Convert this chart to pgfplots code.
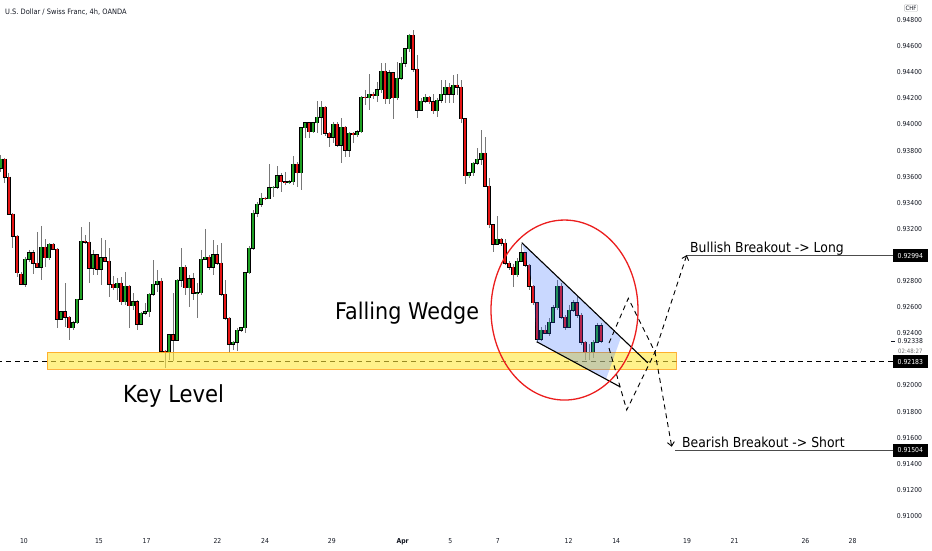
\documentclass[border=0pt]{standalone}
\usepackage{fontspec}
\setmainfont{DejaVu Sans}[FakeStretch=0.9]
\usepackage{pgfplots}
\pgfplotsset{compat=1.18}
\usepackage{pgfplotstable}
\usetikzlibrary{arrows.meta}

\definecolor{candleup}{RGB}{30,160,35}
\definecolor{candledn}{RGB}{230,20,20}
\definecolor{wick}{RGB}{120,120,120}
\definecolor{tvtext}{RGB}{19,23,34}
\definecolor{bandfill}{RGB}{255,232,60}
\definecolor{bandedge}{RGB}{255,165,30}
\definecolor{wedgeblue}{RGB}{41,98,255}
\definecolor{ringred}{RGB}{235,30,30}

% USD/CHF 4h candles: index, open, high, low, close
\pgfplotstableread{
i o h l c
0 .93666 .93766 .93636 .93735
6 .92777 .92984 .92754 .92969
7 .92969 .93038 .92946 .93015
10 .92907 .93222 .92808 .93060
12 .92977 .93091 .92961 .93083
15 .92509 .92570 .92502 .92563
18 .92441 .92494 .92425 .92479
19 .92479 .92662 .92471 .92662
20 .92662 .93214 .92655 .93106
23 .92900 .93038 .92847 .93000
25 .92892 .93130 .92770 .92977
29 .92747 .92823 .92655 .92785
31 .92640 .92870 .92617 .92762
33 .92609 .92708 .92578 .92640
35 .92471 .92563 .92464 .92555
36 .92555 .92632 .92540 .92563
37 .92563 .92708 .92524 .92700
38 .92700 .92961 .92685 .92777
39 .92777 .92885 .92716 .92800
42 .92249 .92387 .92195 .92387
44 .92348 .92815 .92348 .92808
45 .92808 .93053 .92754 .92907
47 .92747 .92847 .92601 .92816
49 .92708 .92785 .92517 .92712
50 .92712 .93038 .92693 .92969
51 .92969 .93199 .92961 .92984
53 .92907 .93114 .92847 .93000
58 .92317 .92340 .92272 .92333
59 .92333 .92441 .92264 .92425
60 .92425 .92448 .92410 .92441
61 .92441 .92870 .92402 .92862
62 .92862 .93068 .92854 .93053
63 .93053 .93344 .93038 .93321
64 .93321 .93406 .93290 .93390
65 .93390 .93474 .93367 .93436
67 .93432 .93696 .93425 .93513
68 .93513 .93528 .93444 .93517
69 .93517 .93681 .93505 .93605
72 .93555 .93574 .93544 .93559
73 .93559 .93758 .93536 .93696
75 .93628 .93980 .93497 .93973
76 .93973 .94019 .93896 .94011
78 .93942 .94019 .93934 .94011
79 .94011 .94179 .93934 .94056
80 .94056 .94179 .93919 .94133
83 .93903 .94019 .93857 .94003
85 .93842 .94049 .93704 .93980
87 .93804 .93942 .93750 .93934
89 .93919 .93957 .93903 .93942
90 .93942 .94218 .93934 .94210
92 .94206 .94386 .94110 .94233
94 .94218 .94325 .94172 .94264
95 .94264 .94470 .94241 .94409
97 .94195 .94417 .94156 .94394
99 .94203 .94478 .94187 .94355
100 .94355 .94516 .94340 .94470
101 .94470 .94586 .94439 .94578
102 .94578 .94693 .94555 .94685
105 .94110 .94203 .94103 .94179
106 .94179 .94233 .94164 .94210
109 .94103 .94203 .94056 .94187
110 .94187 .94340 .94164 .94233
111 .94233 .94340 .94164 .94286
113 .94233 .94379 .94164 .94302
117 .93605 .93636 .93589 .93628
118 .93628 .93712 .93605 .93704
119 .93704 .93819 .93689 .93735
120 .93735 .93957 .93689 .93781
124 .93083 .93298 .93076 .93122
129 .92847 .92977 .92831 .92953
130 .92953 .93083 .92946 .93015
135 .92356 .92448 .92340 .92425
137 .92402 .92517 .92379 .92486
138 .92486 .92617 .92479 .92594
139 .92594 .92808 .92578 .92762
142 .92448 .92617 .92441 .92578
143 .92578 .92655 .92563 .92632
147 .92249 .92317 .92195 .92253
148 .92253 .92348 .92211 .92333
149 .92333 .92479 .92325 .92456
}\upcandles

\pgfplotstableread{
i o h l c
1 .93735 .93743 .93551 .93597
2 .93597 .93628 .93306 .93313
3 .93313 .93321 .93053 .93145
4 .93145 .93153 .92831 .92862
5 .92854 .92870 .92770 .92777
8 .93015 .93038 .92854 .92938
9 .92938 .93176 .92900 .92907
11 .93060 .93122 .92907 .92977
13 .93083 .93091 .93038 .93045
14 .93045 .93053 .92441 .92509
16 .92563 .92785 .92448 .92524
17 .92524 .92532 .92348 .92441
21 .93106 .93153 .93083 .93099
22 .93099 .93253 .92785 .92900
24 .93000 .93005 .92847 .92892
26 .92977 .93114 .92946 .92953
27 .92953 .93053 .92677 .92777
28 .92777 .92839 .92731 .92747
30 .92785 .92831 .92617 .92640
32 .92762 .92770 .92441 .92609
34 .92640 .92655 .92425 .92471
40 .92800 .92823 .92249 .92264
41 .92264 .92272 .92134 .92249
43 .92387 .92708 .92188 .92348
46 .92907 .92923 .92693 .92747
48 .92816 .92862 .92655 .92708
52 .92984 .93000 .92885 .92907
54 .93000 .93076 .92923 .92938
55 .92938 .93091 .92685 .92700
56 .92700 .92808 .92502 .92517
57 .92517 .92525 .92249 .92317
66 .93436 .93444 .93421 .93432
70 .93605 .93628 .93482 .93559
71 .93559 .93636 .93536 .93555
74 .93696 .93712 .93520 .93628
77 .94011 .94019 .93896 .93942
81 .94133 .94141 .93911 .93934
82 .93934 .93940 .93826 .93903
84 .94003 .94019 .93826 .93842
86 .93980 .93988 .93750 .93804
88 .93934 .93942 .93857 .93919
91 .94210 .94264 .94149 .94206
93 .94233 .94249 .94195 .94218
96 .94409 .94470 .94156 .94195
98 .94394 .94402 .94042 .94203
103 .94685 .94723 .94401 .94424
104 .94424 .94532 .94049 .94110
107 .94210 .94218 .94156 .94172
108 .94172 .94233 .94080 .94103
112 .94286 .94317 .94164 .94233
114 .94302 .94386 .94226 .94286
115 .94286 .94340 .94011 .94042
116 .94042 .94049 .93543 .93605
121 .93781 .93903 .93520 .93528
122 .93528 .93589 .93207 .93230
123 .93230 .93237 .93023 .93083
125 .93122 .93130 .93068 .93091
126 .93091 .93122 .92923 .92938
127 .92938 .92953 .92885 .92907
128 .92907 .92931 .92754 .92847
131 .93015 .93023 .92907 .92923
132 .92923 .92931 .92731 .92762
133 .92762 .92770 .92617 .92632
134 .92632 .92640 .92333 .92356
136 .92425 .92464 .92394 .92402
140 .92762 .92785 .92509 .92524
141 .92524 .92540 .92425 .92448
144 .92632 .92685 .92517 .92540
145 .92540 .92555 .92310 .92333
146 .92333 .92340 .92195 .92249
150 .92456 .92479 .92325 .92338
}\downcandles

\pgfplotsset{
  wicks/.style={draw=none, mark=none, forget plot,
    error bars/.cd, y dir=minus, y explicit, error mark=none,
    error bar style={draw=wick, line width=1pt}},
  bodyedge/.style={draw=none, mark=none, forget plot,
    error bars/.cd, y dir=minus, y explicit, error mark=none,
    error bar style={draw=black, line width=3.2pt, line cap=butt}},
  bodyfill/.style={draw=none, mark=none, forget plot,
    error bars/.cd, y dir=minus, y explicit, error mark=none,
    error bar style={draw=#1, line width=2.2pt, line cap=butt}},
}

\newcommand{\tickfont}{\fontsize{6.8}{8}\selectfont}

\begin{document}
\begin{tikzpicture}
\path[use as bounding box] (0,0) rectangle (932pt,550pt);
\begin{axis}[
  at={(0pt,22pt)}, anchor=south west,
  scale only axis, width=932pt, height=528pt,
  xmin=-0.25, xmax=232.75,
  ymin=0.909082, ymax=0.949532,
  axis line style={draw=none},
  tick style={draw=none},
  clip=false,
  xtick={5.75,24.5,36.4,54.1,66,82.7,100.4,112.3,124.2,141.9,153.8,171.5,183.4,201.1,212.9},
  xticklabels={10,15,17,22,24,29,\textbf{Apr},5,7,12,14,19,21,26,28},
  xticklabel style={font=\tickfont, text=tvtext, yshift=-7pt},
  ytick={0.910,0.912,0.914,0.916,0.918,0.920,0.924,0.926,0.928,0.932,0.934,0.936,0.938,0.940,0.942,0.944,0.946,0.948},
  yticklabel pos=right,
  scaled y ticks=false,
  /pgf/number format/assume math mode=true,
  yticklabel style={/pgf/number format/fixed, /pgf/number format/fixed zerofill,
    /pgf/number format/precision=5, font=\tickfont, text=tvtext,
    anchor=east, xshift=-6.4pt},
]
% key level
\addplot[forget plot, black, line width=1pt, dash pattern=on 5pt off 4pt]
  coordinates {(-1,0.92183) (223,0.92183)};

% candles
\addplot[wicks] table[x=i, y=h, y error expr=\thisrow{h}-\thisrow{l}] {\upcandles};
\addplot[wicks] table[x=i, y=h, y error expr=\thisrow{h}-\thisrow{l}] {\downcandles};
\addplot[bodyedge] table[x=i, y expr={max(\thisrow{o},\thisrow{c})+0.0000383},
  y error expr={abs(\thisrow{o}-\thisrow{c})+0.0000766}] {\upcandles};
\addplot[bodyedge] table[x=i, y expr={max(\thisrow{o},\thisrow{c})+0.0000383},
  y error expr={abs(\thisrow{o}-\thisrow{c})+0.0000766}] {\downcandles};
\addplot[bodyfill=candleup] table[x=i, y expr={max(\thisrow{o},\thisrow{c})},
  y error expr={abs(\thisrow{o}-\thisrow{c})}] {\upcandles};
\addplot[bodyfill=candledn] table[x=i, y expr={max(\thisrow{o},\thisrow{c})},
  y error expr={abs(\thisrow{o}-\thisrow{c})}] {\downcandles};

% yellow key-level zone
\fill[bandfill, opacity=0.6] (axis cs:11.5,0.92256) rectangle (axis cs:168.75,0.92126);
\draw[bandedge, opacity=0.85, line width=0.8pt] (axis cs:11.5,0.92256) rectangle (axis cs:168.75,0.92126);

% wedge
\fill[wedgeblue, opacity=0.25] (axis cs:130.18,0.93094) -- (axis cs:155.0,0.92369)
  -- (axis cs:151.25,0.92048) -- (axis cs:133.93,0.92335) -- (axis cs:133.08,0.92757) -- cycle;
\addplot[forget plot, black, line width=1.1pt] coordinates {(130.18,0.93094) (161.68,0.92174)};
\addplot[forget plot, black, line width=1.1pt] coordinates {(133.93,0.92335) (154.75,0.91990)};

% scenarios
\addplot[forget plot, black, line width=0.9pt, dash pattern=on 5pt off 4pt,
  -{Straight Barb[length=4pt,width=7pt]}]
  coordinates {(152.0,0.92325) (156.83,0.92668) (163.5,0.92256) (167.68,0.91531)};
\addplot[forget plot, black, line width=0.9pt, dash pattern=on 5pt off 4pt,
  -{Straight Barb[length=4pt,width=7pt]}]
  coordinates {(152.0,0.92287) (156.43,0.91812) (163.5,0.92256) (171.43,0.92999)};

\addplot[forget plot, black!70, line width=0.9pt] coordinates {(171.43,0.92994) (223,0.92994)};
\addplot[forget plot, black!70, line width=0.9pt] coordinates {(168.5,0.91504) (223,0.91504)};

% circle
\draw[ringred, line width=1.3pt] (axis cs:140.875,0.92578) ellipse [x radius=73.5pt, y radius=90pt];
\end{axis}

% texts
\node[anchor=base west, text=tvtext, font=\fontsize{7.4}{9}\selectfont, inner sep=0pt] at (5pt,535pt) {U.S. Dollar / Swiss Franc, 4h, OANDA};
\node[anchor=base west, text=black, font=\fontsize{23}{26}\selectfont, inner sep=0pt] at (335pt,231pt) {Falling Wedge};
\node[anchor=base west, text=black, font=\fontsize{23.5}{26}\selectfont, inner sep=0pt] at (123pt,148pt) {Key Level};
\node[anchor=base west, text=black, font=\fontsize{13.8}{16}\selectfont, inner sep=0pt] at (690pt,298pt) {Bullish Breakout -> Long};
\node[anchor=base west, text=black, font=\fontsize{13.8}{16}\selectfont, inner sep=0pt] at (682pt,103pt) {Bearish Breakout -> Short};

% price scale labels
\node[draw=black!25, rounded corners=1pt, inner sep=1.2pt, text=tvtext, font=\fontsize{6}{7}\selectfont] at (911pt,542pt) {CHF};
\node[anchor=west, fill=black, text=white, font=\tickfont, inner xsep=4.5pt, inner ysep=0pt, minimum height=13pt] at (893pt,294.3pt) {0.92994};
\node[anchor=west, fill=black, text=white, font=\tickfont, inner xsep=4.5pt, inner ysep=0pt, minimum height=13pt] at (893pt,188.4pt) {0.92183};
\node[anchor=west, fill=black, text=white, font=\tickfont, inner xsep=4.5pt, inner ysep=0pt, minimum height=13pt] at (893pt,99.8pt) {0.91504};
\node[anchor=west, fill=white, text=tvtext, font=\tickfont, inner xsep=1pt, inner ysep=0.5pt] at (896.5pt,208.6pt) {0.92338};
\draw[tvtext, line width=0.6pt] (891pt,208.6pt) -- (895pt,208.6pt);
\node[anchor=west, fill=white, text=black!55, font=\fontsize{6}{7}\selectfont, inner xsep=1pt, inner ysep=0.5pt] at (897pt,198.5pt) {02:48:27};
\end{tikzpicture}
\end{document}
